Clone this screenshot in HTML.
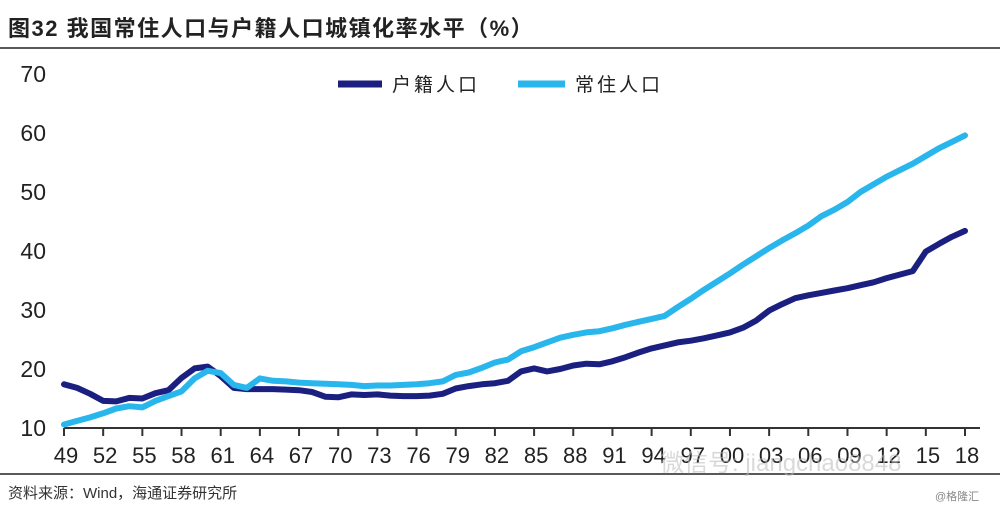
<!DOCTYPE html>
<html><head><meta charset="utf-8"><style>
body{margin:0;background:#fff;width:1000px;height:510px;overflow:hidden;font-family:"Liberation Sans","Noto Sans CJK SC",sans-serif;}
</style></head><body>
<svg width="1000" height="510" id="c">
<text x="8" y="36" font-size="22" font-weight="bold" letter-spacing="1.5" fill="#222" font-family="Liberation Sans,Noto Sans CJK SC,sans-serif">图32 我国常住人口与户籍人口城镇化率水平（%）</text>
<line x1="0" y1="48" x2="1000" y2="48" stroke="#222" stroke-width="1.5"/>
<line x1="0" y1="474" x2="1000" y2="474" stroke="#222" stroke-width="1.5"/>
<text x="8" y="498" font-size="15" fill="#333" font-family="Liberation Sans,Noto Sans CJK SC,sans-serif">资料来源：Wind，海通证券研究所</text>
<text x="935" y="500" font-size="11" fill="#888" font-family="Liberation Sans,Noto Sans CJK SC,sans-serif">@格隆汇</text>
<line x1="338" y1="84" x2="382" y2="84" stroke="#1a1f80" stroke-width="7"/>
<text x="392" y="91" font-size="19" letter-spacing="3" fill="#222" font-family="Liberation Sans,Noto Sans CJK SC,sans-serif">户籍人口</text>
<line x1="518" y1="84" x2="565" y2="84" stroke="#29b6ec" stroke-width="7"/>
<text x="575" y="91" font-size="19" letter-spacing="3" fill="#222" font-family="Liberation Sans,Noto Sans CJK SC,sans-serif">常住人口</text>
<g id="ax"></g>
<text x="660" y="471" font-size="24" fill="#bbb" opacity="0.55" font-family="Liberation Sans,Noto Sans CJK SC,sans-serif">微信号: jiangchao8848</text>
</svg>
<script>
const years=[];for(let y=1949;y<=2018;y++)years.push(y);
const hukou=[17.4,16.8,15.8,14.6,14.5,15.1,15.0,15.9,16.4,18.5,20.1,20.4,18.8,16.8,16.6,16.6,16.6,16.5,16.4,16.1,15.3,15.2,15.7,15.6,15.7,15.5,15.4,15.4,15.5,15.8,16.7,17.1,17.4,17.6,18.0,19.6,20.1,19.6,20.0,20.6,20.9,20.8,21.3,22.0,22.8,23.5,24.0,24.5,24.8,25.2,25.7,26.2,27.0,28.2,29.9,31.0,32.0,32.5,32.9,33.3,33.7,34.2,34.7,35.4,36.0,36.6,39.9,41.2,42.4,43.4];
const resident=[10.6,11.2,11.8,12.5,13.3,13.7,13.5,14.6,15.4,16.2,18.4,19.7,19.3,17.3,16.8,18.4,18.0,17.9,17.7,17.6,17.5,17.4,17.3,17.1,17.2,17.2,17.3,17.4,17.6,17.9,19.0,19.4,20.2,21.1,21.6,23.0,23.7,24.5,25.3,25.8,26.2,26.4,26.9,27.5,28.0,28.5,29.0,30.5,31.9,33.4,34.8,36.2,37.7,39.1,40.5,41.8,43.0,44.3,45.9,47.0,48.3,50.0,51.3,52.6,53.7,54.8,56.1,57.4,58.5,59.6];
const yTicks=[10,20,30,40,50,60,70];
const xTickYears=[1949,1952,1955,1958,1961,1964,1967,1970,1973,1976,1979,1982,1985,1988,1991,1994,1997,2000,2003,2006,2009,2012,2015,2018];
const NS="http://www.w3.org/2000/svg";
const x=v=>64+(v-1949)*(965-64)/69;
const y=v=>428-(v-10)*(428-74)/60;
const g=document.getElementById('ax');
function mk(t,a){const e=document.createElementNS(NS,t);for(const k in a)e.setAttribute(k,a[k]);g.appendChild(e);return e;}
yTicks.forEach(v=>{const t=mk('text',{x:46,y:y(v)+8,'text-anchor':'end','font-size':23,fill:'#222'});t.textContent=v;

});
const xl=mk('line',{x1:64,y1:428,x2:980,y2:428,stroke:'#333','stroke-width':2});


xTickYears.forEach(v=>{const tk=mk('line',{x1:x(v),y1:428,x2:x(v),y2:436,stroke:'#333','stroke-width':2});


const t=mk('text',{x:x(v)+2,y:463,'text-anchor':'middle','font-size':22,fill:'#222'});t.textContent=String(v%100).padStart(2,'0');

});
function line(data,color,name){const d=data.map((v,i)=>(i?'L':'M')+x(years[i]).toFixed(1)+','+y(v).toFixed(1)).join('');
const p=mk('path',{d:d,fill:'none',stroke:color,'stroke-width':6,'stroke-linejoin':'round','stroke-linecap':'round'});

}
line(hukou,'#1a1f80','hukou-line');
line(resident,'#29b6ec','resident-line');
</script>
</body></html>
